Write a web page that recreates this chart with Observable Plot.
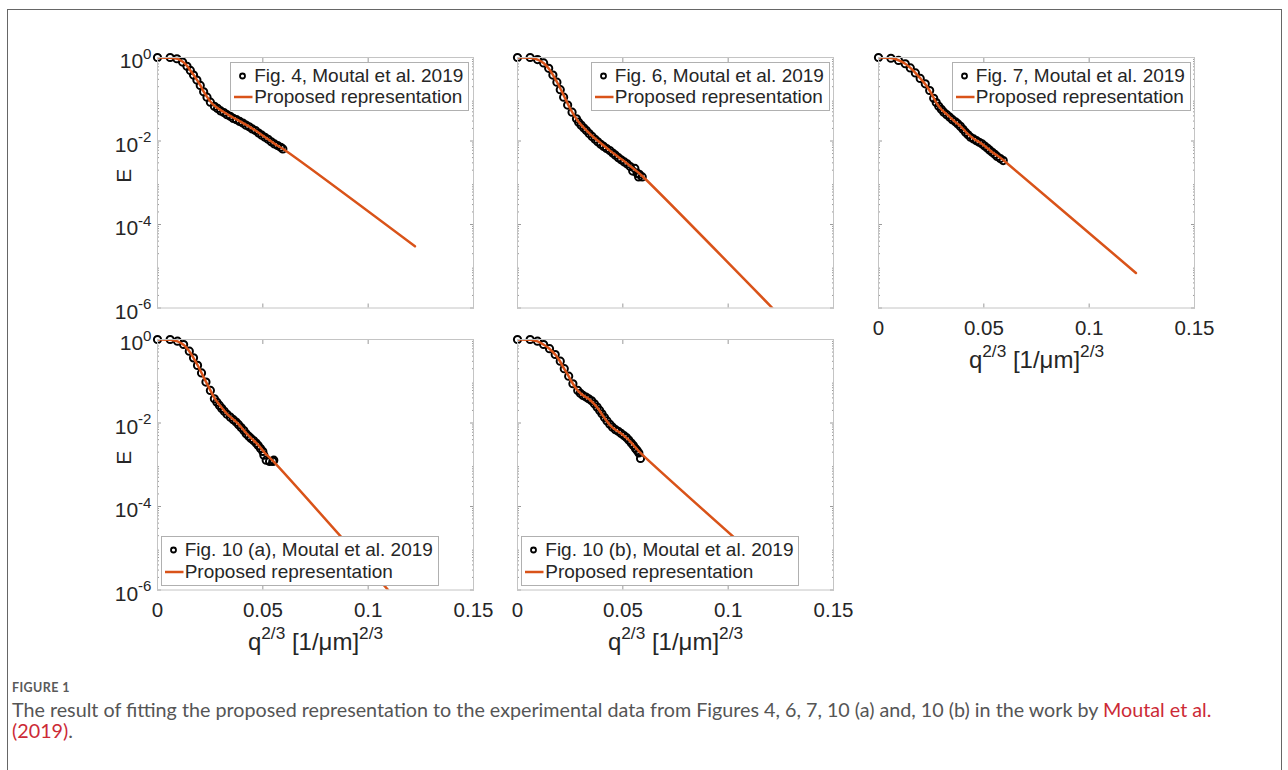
<!DOCTYPE html>
<html>
<head>
<meta charset="utf-8">
<script src="https://cdn.jsdelivr.net/npm/d3@7"></script>
<script src="https://cdn.jsdelivr.net/npm/@observablehq/plot@0.6"></script>
<style>
  html, body { margin: 0; padding: 0; background: #fff; }
  #page { position: relative; width: 1288px; height: 770px; overflow: hidden; font-family: "Liberation Sans", Arial, sans-serif; }
  #border { position: absolute; left: 7px; top: 9px; width: 1273px; height: 900px; border: 1px solid #666; border-bottom: none; }
  .panel { position: absolute; }
  .legend { position: absolute; background: #fff; border: 1px solid #b0b0b0; padding: 2px 5px 2px 0; font-size: 19px; color: #262626; white-space: nowrap; }
  .legend .row { display: flex; align-items: center; height: 21.7px; line-height: 21.7px; }
  .legend svg { flex: none; display: block; }
  #figlabel { position: absolute; left: 12px; top: 681px; font-family: Lato, "Open Sans", sans-serif; font-size: 12.5px; font-weight: 700; letter-spacing: 0.4px; color: #5a5a5a; line-height: 14px; }
  #captext { position: absolute; left: 12px; top: 699px; font-family: Lato, "Open Sans", sans-serif; color: #555; line-height: 21px; white-space: nowrap; }
  #captext .ref { color: #cc2a36; }
</style>
</head>
<body>
<div id="page">
  <div id="border"></div>
  <div id="figlabel">FIGURE 1</div>
  <div id="captext"><span id="line1">The result of fitting the proposed representation to the experimental data from Figures 4, 6, 7, 10 (a) and, 10 (b) in the work by <span class="ref">Moutal et al.</span></span><br><span class="ref">(2019)</span>.</div>
</div>
<script>
// ---------------- data ----------------
const fig4Data = [[0,1],[0.006,1],[0.0092,0.933],[0.0119,0.776],[0.014,0.617],[0.0156,0.490],[0.0171,0.380],[0.0187,0.288],[0.0203,0.214],[0.0219,0.151],[0.0235,0.112],[0.0251,0.0851],[0.027,0.0676],[0.0285,0.0603],[0.030,0.0525],[0.0315,0.0479],[0.033,0.0427],[0.0345,0.0389],[0.036,0.0347],[0.0375,0.0324],[0.039,0.0295],[0.0405,0.0269],[0.042,0.0240],[0.0435,0.0219],[0.045,0.0195],[0.0465,0.0178],[0.048,0.0155],[0.0495,0.0138],[0.051,0.0123],[0.0525,0.0110],[0.054,0.00955],[0.0555,0.00851],[0.057,0.00776],[0.0585,0.00708],[0.0595,0.00646]];
const fig4Fit = [[0,1],[0.006,0.98],[0.0095,0.93],[0.012,0.79],[0.014,0.63],[0.016,0.46],[0.018,0.33],[0.020,0.23],[0.022,0.15],[0.024,0.105],[0.026,0.078],[0.028,0.064],[0.031,0.051],[0.034,0.041],[0.037,0.034],[0.040,0.028],[0.044,0.0215],[0.048,0.0158],[0.052,0.0115],[0.056,0.0083],[0.0595,0.0065],[0.1222,3.0e-5]];

const fig6Data = [[0,1],[0.006,1],[0.0095,0.891],[0.0124,0.741],[0.0148,0.550],[0.0168,0.380],[0.0187,0.257],[0.0203,0.170],[0.0219,0.112],[0.0238,0.0724],[0.0259,0.0490],[0.028,0.0339],[0.029,0.0282],[0.0302,0.0240],[0.0315,0.0204],[0.0327,0.0178],[0.034,0.0151],[0.0354,0.0129],[0.0368,0.0110],[0.0381,0.00955],[0.0395,0.00832],[0.0409,0.00741],[0.0423,0.00661],[0.0438,0.00589],[0.0452,0.00513],[0.0465,0.00457],[0.0479,0.00398],[0.0492,0.00355],[0.0507,0.00316],[0.0521,0.00282],[0.0535,0.00245],[0.0547,0.0019],[0.0557,0.0022],[0.0568,0.0017],[0.0578,0.0016],[0.0575,0.00138],[0.0592,0.00138]];
const fig6Fit = [[0,1],[0.006,0.98],[0.0095,0.89],[0.0125,0.73],[0.015,0.53],[0.017,0.37],[0.019,0.245],[0.021,0.155],[0.023,0.095],[0.025,0.060],[0.027,0.040],[0.030,0.025],[0.033,0.0175],[0.036,0.0125],[0.040,0.0085],[0.044,0.0058],[0.048,0.0041],[0.052,0.0029],[0.056,0.0020],[0.0592,0.00145],[0.121,1e-6]];

const fig7Data = [[0,1],[0.0059,0.96],[0.0095,0.851],[0.0127,0.708],[0.0151,0.562],[0.0175,0.427],[0.0198,0.316],[0.0222,0.234],[0.0243,0.162],[0.0262,0.105],[0.0274,0.0832],[0.0286,0.0676],[0.0298,0.0575],[0.031,0.0490],[0.0324,0.0427],[0.0338,0.0372],[0.0351,0.0324],[0.0365,0.0288],[0.0377,0.0257],[0.0389,0.0224],[0.0401,0.0191],[0.0413,0.0162],[0.0425,0.0141],[0.0437,0.0123],[0.0451,0.0112],[0.0465,0.0102],[0.0478,0.00933],[0.0492,0.00851],[0.0504,0.00759],[0.0516,0.00676],[0.0528,0.00603],[0.054,0.00537],[0.0552,0.00479],[0.0563,0.00427],[0.0578,0.0038],[0.0592,0.00339]];
const fig7Fit = [[0,1],[0.006,0.97],[0.0095,0.86],[0.0127,0.71],[0.015,0.57],[0.0175,0.43],[0.020,0.31],[0.0225,0.22],[0.025,0.14],[0.0275,0.082],[0.030,0.056],[0.033,0.041],[0.036,0.030],[0.039,0.0225],[0.042,0.0155],[0.045,0.0115],[0.048,0.0093],[0.051,0.0072],[0.054,0.0054],[0.0575,0.0041],[0.0595,0.0034],[0.1222,6.9e-6]];

const fig10aData = [[0,1],[0.006,1],[0.0095,0.912],[0.0124,0.759],[0.0151,0.525],[0.0171,0.363],[0.019,0.240],[0.0209,0.158],[0.023,0.0955],[0.0251,0.0603],[0.027,0.0380],[0.0282,0.0316],[0.0294,0.0263],[0.0305,0.0224],[0.0317,0.0191],[0.033,0.0162],[0.0346,0.0138],[0.036,0.0120],[0.0373,0.0105],[0.0385,0.00912],[0.0397,0.00776],[0.041,0.00661],[0.0421,0.00550],[0.0433,0.00479],[0.0444,0.00427],[0.0456,0.0038],[0.0468,0.00331],[0.0478,0.00288],[0.0489,0.00245],[0.050,0.00209],[0.0505,0.0017],[0.0516,0.00129],[0.0532,0.00120],[0.0548,0.00120],[0.0552,0.00129]];
const fig10aFit = [[0,1],[0.006,0.98],[0.0095,0.90],[0.0125,0.74],[0.015,0.53],[0.017,0.37],[0.019,0.245],[0.021,0.155],[0.023,0.097],[0.025,0.062],[0.027,0.040],[0.030,0.025],[0.033,0.0165],[0.036,0.0122],[0.039,0.0088],[0.042,0.0058],[0.045,0.0041],[0.048,0.0029],[0.051,0.0019],[0.055,0.0012],[0.1095,1e-6]];

const fig10bData = [[0,1],[0.006,1],[0.0095,0.912],[0.0124,0.759],[0.0152,0.603],[0.0179,0.437],[0.0203,0.302],[0.0222,0.200],[0.0243,0.132],[0.0263,0.0871],[0.0286,0.0603],[0.0298,0.0513],[0.0311,0.0457],[0.0325,0.0417],[0.0338,0.0380],[0.0352,0.0339],[0.0365,0.0288],[0.0378,0.0240],[0.039,0.0200],[0.0401,0.0166],[0.0413,0.0135],[0.0425,0.0112],[0.0438,0.00933],[0.0451,0.00794],[0.0465,0.00692],[0.0478,0.00631],[0.0492,0.00562],[0.0505,0.00501],[0.0517,0.00447],[0.0528,0.00389],[0.054,0.00331],[0.055,0.00288],[0.056,0.00245],[0.0568,0.00219],[0.0576,0.00191],[0.0584,0.00141]];
const fig10bFit = [[0,1],[0.006,0.98],[0.0095,0.90],[0.0125,0.75],[0.015,0.61],[0.018,0.43],[0.020,0.31],[0.022,0.205],[0.024,0.14],[0.026,0.092],[0.028,0.065],[0.030,0.051],[0.032,0.043],[0.034,0.037],[0.036,0.030],[0.038,0.023],[0.040,0.0165],[0.042,0.0118],[0.044,0.0088],[0.046,0.0072],[0.048,0.0062],[0.050,0.0052],[0.052,0.0043],[0.054,0.0034],[0.056,0.0026],[0.0585,0.0019],[0.122,2.5e-6]];

const dataNames = ["Fig. 4, Moutal et al. 2019", "Fig. 6, Moutal et al. 2019", "Fig. 7, Moutal et al. 2019", "Fig. 10 (a), Moutal et al. 2019", "Fig. 10 (b), Moutal et al. 2019"];
const fitName = "Proposed representation";
const xTickValues = [0, 0.05, 0.1, 0.15];
const yTickValues = [1, 1e-2, 1e-4, 1e-6];
const xLabel = "q^{2/3} [1/μm]^{2/3}";
const yLabel = "E";

// ---------------- layout ----------------
const FIT_COLOR = "#D95319";
const FRAME_COLOR = "#c4c4c4";
const TICK_COLOR = "#9a9a9a";
const FW = 316, FH = 250.5;
const M = {left: 70, right: 20, top: 10, bottom: 80};
const yMinor = d3.range(-6, 0).flatMap(e => d3.range(2, 10).map(k => k * Math.pow(10, e)));

const panels = [
  {data: fig4Data, fit: fig4Fit, name: dataNames[0], left: 156.7, top: 56.7, yAxis: true, xAxis: false, legend: "ne"},
  {data: fig6Data, fit: fig6Fit, name: dataNames[1], left: 517.3, top: 56.7, yAxis: false, xAxis: false, legend: "ne"},
  {data: fig7Data, fit: fig7Fit, name: dataNames[2], left: 878.3, top: 56.7, yAxis: false, xAxis: true, legend: "ne"},
  {data: fig10aData, fit: fig10aFit, name: dataNames[3], left: 156.7, top: 339.3, yAxis: true, xAxis: true, legend: "sw"},
  {data: fig10bData, fit: fig10bFit, name: dataNames[4], left: 517.3, top: 339.3, yAxis: false, xAxis: true, legend: "sw"}
];

function supify(svg, ratio, raise) {
  svg.querySelectorAll("text").forEach(t => {
    const s = t.textContent;
    if (!s.includes("^{")) return;
    const fs = parseFloat(getComputedStyle(t).fontSize) || 16;
    const parts = s.split(/(\^\{[^}]*\})/).filter(p => p.length);
    while (t.firstChild) t.removeChild(t.firstChild);
    const NS = "http://www.w3.org/2000/svg";
    let raised = false;
    parts.forEach(p => {
      const ts = document.createElementNS(NS, "tspan");
      if (p.startsWith("^{")) {
        ts.textContent = p.slice(2, -1);
        ts.setAttribute("font-size", (fs * ratio) + "px");
        ts.setAttribute("dy", (-fs * raise) + "");
        raised = true;
      } else {
        ts.textContent = p;
        if (raised) { ts.setAttribute("dy", (fs * raise) + ""); raised = false; }
      }
      t.appendChild(ts);
    });
  });
}

const page = document.getElementById("page");

panels.forEach(p => {
  const tickOpts = {tickFormat: () => "", label: null, stroke: TICK_COLOR};
  const marks = [
    Plot.dot(p.data, {x: d => d[0], y: d => d[1], r: 3.6, stroke: "#000", strokeWidth: 2, fill: "none"}),
    Plot.line(p.fit, {x: d => d[0], y: d => d[1], stroke: FIT_COLOR, strokeWidth: 2.5, curve: "catmull-rom", clip: true}),
    Plot.axisX({anchor: "bottom", ticks: [0.05, 0.1], tickSize: -4, ...tickOpts}),
    Plot.axisX({anchor: "top", ticks: [0.05, 0.1], tickSize: -4, ...tickOpts}),
    Plot.axisY({anchor: "left", ticks: yTickValues, tickSize: -4, ...tickOpts}),
    Plot.axisY({anchor: "right", ticks: yTickValues, tickSize: -4, ...tickOpts}),
    Plot.axisY({anchor: "left", ticks: yMinor, tickSize: -2, ...tickOpts}),
    Plot.axisY({anchor: "right", ticks: yMinor, tickSize: -2, ...tickOpts}),
    Plot.frame({stroke: FRAME_COLOR})
  ];
  if (p.yAxis) {
    marks.push(
      Plot.axisY({anchor: "left", ticks: yTickValues, tickSize: 0, tickPadding: 6, fontSize: 21, dy: 4, label: null,
        tickFormat: d => `10^{${Math.round(Math.log10(d))}}`}),
      Plot.text([yLabel], {frameAnchor: "left", dx: -33, rotate: -90, fontSize: 21, text: d => d})
    );
  }
  if (p.xAxis) {
    marks.push(
      Plot.axisX({anchor: "bottom", ticks: xTickValues, tickSize: 0, tickPadding: 12, fontSize: 20.5, label: null,
        tickFormat: d => String(d)}),
      Plot.text([xLabel], {frameAnchor: "bottom", dy: 60, lineAnchor: "bottom", fontSize: 24, text: d => d})
    );
  }
  const svg = Plot.plot({
    width: M.left + FW + M.right,
    height: M.top + FH + M.bottom,
    marginLeft: M.left, marginRight: M.right, marginTop: M.top, marginBottom: M.bottom,
    x: {domain: [0, 0.15]},
    y: {type: "log", domain: [1e-6, 1]},
    style: {background: "transparent", overflow: "visible", fontFamily: "'Liberation Sans', Arial, sans-serif", color: "#262626"},
    marks
  });
  svg.classList.add("panel");
  svg.style.position = "absolute";
  svg.style.left = (p.left - M.left) + "px";
  svg.style.top = (p.top - M.top) + "px";
  page.appendChild(svg);
  supify(svg, 0.72, 0.45);
});

// legends (HTML overlays, drawn above the plots)
panels.forEach(p => {
  const lg = document.createElement("div");
  lg.className = "legend";
  lg.innerHTML =
    `<div class="row"><svg width="23" height="20"><circle cx="11.5" cy="10" r="2.5" fill="none" stroke="#000" stroke-width="1.8"></circle></svg><span></span></div>` +
    `<div class="row"><svg width="23" height="20"><line x1="3" x2="21.5" y1="10" y2="10" stroke="${FIT_COLOR}" stroke-width="2.5"></line></svg><span></span></div>`;
  const spans = lg.querySelectorAll("span");
  spans[0].textContent = p.name;
  spans[1].textContent = fitName;
  page.appendChild(lg);
  const w = lg.offsetWidth, h = lg.offsetHeight;
  if (p.legend === "ne") {
    lg.style.left = (p.left + FW - 3.5 - w) + "px";
    lg.style.top = (p.top + 5) + "px";
  } else {
    lg.style.left = (p.left + 4) + "px";
    lg.style.top = (p.top + FH - 4.5 - h) + "px";
  }
});

// caption: fit first line to the reference width
(function () {
  const cap = document.getElementById("captext");
  const line1 = document.getElementById("line1");
  cap.style.fontSize = "16px";
  const w = line1.getBoundingClientRect().width;
  cap.style.fontSize = (16 * 1200 / w) + "px";
})();
</script>
</body>
</html>
